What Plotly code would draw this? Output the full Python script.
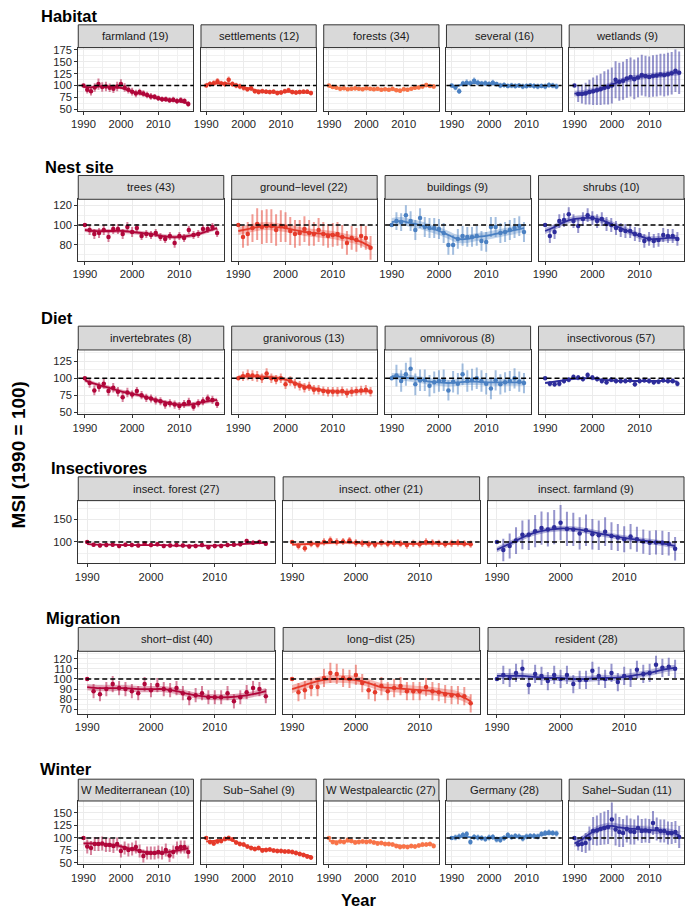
import plotly.graph_objects as go

W, H = 685, 917
YEARS = list(range(1990, 2019))
FIT_YEARS = list(range(1990, 2019, 2))

# ---------------- Habitat ----------------
farmland_val = [100, 91, 88, 96, 103, 97, 98, 95, 93, 98, 103, 96, 91, 87, 83, 86, 83, 80, 77, 76, 73, 71, 71, 69, 70, 67, 69, 67, 61]
farmland_err = [0, 8, 9, 9, 12, 10, 10, 9, 9, 10, 10, 9, 8, 8, 8, 7, 7, 7, 7, 6, 6, 6, 6, 6, 6, 6, 6, 6, 6]
farmland_fit = [97, 96, 98, 98, 97, 95, 90, 85, 81, 77, 73, 70, 68, 66, 62]
farmland_band = 3

settlements_val = [100, 103, 105, 109, 104, 103, 112, 103, 100, 98, 95, 92, 94, 88, 86, 88, 87, 86, 87, 84, 85, 88, 90, 86, 85, 86, 87, 87, 84]
settlements_err = [0, 6, 6, 7, 6, 6, 7, 6, 6, 6, 6, 5, 5, 5, 5, 5, 5, 5, 5, 5, 5, 5, 5, 5, 5, 5, 5, 5, 5]
settlements_fit = [103, 104, 105, 104, 101, 96, 92, 89, 87, 86, 86, 87, 86, 86, 85]
settlements_band = 3

forests_val = [100, 97, 95, 93, 94, 92, 93, 94, 93, 92, 94, 93, 92, 93, 91, 92, 91, 93, 90, 89, 92, 91, 93, 95, 96, 98, 101, 99, 98]
forests_err = [0, 4, 4, 5, 4, 4, 4, 5, 4, 4, 4, 4, 4, 4, 4, 4, 4, 4, 4, 5, 4, 4, 4, 4, 4, 5, 5, 4, 5]
forests_fit = [97, 95, 93, 93, 93, 93, 92, 92, 92, 91, 91, 93, 96, 99, 99]
forests_band = 2

several_val = [100, 96, 88, 104, 106, 105, 110, 106, 104, 105, 103, 106, 103, 100, 101, 99, 100, 99, 100, 98, 99, 100, 99, 98, 99, 98, 101, 100, 98]
several_err = [0, 6, 6, 6, 7, 6, 7, 6, 6, 6, 6, 6, 5, 6, 6, 5, 6, 6, 5, 6, 6, 5, 6, 6, 5, 6, 6, 6, 6]
several_fit = [97, 100, 104, 105, 105, 104, 102, 100, 99, 99, 99, 99, 99, 99, 99]
several_band = 2.5

wetlands_val = [100, 82, 82, 83, 86, 88, 90, 92, 95, 97, 100, 112, 108, 110, 115, 118, 113, 117, 122, 120, 118, 120, 121, 123, 122, 124, 126, 131, 127]
wetlands_err = [0, 17, 20, 23, 26, 29, 31, 33, 35, 37, 38, 39, 40, 40, 41, 41, 42, 42, 43, 43, 43, 44, 44, 44, 45, 45, 45, 45, 45]
wetlands_fit = [83, 84, 87, 91, 96, 102, 108, 113, 116, 119, 120, 122, 123, 126, 127]
wetlands_band = 6

# ---------------- Nest site ----------------
trees_val = [100, 95, 91, 92, 95, 88, 96, 96, 91, 98, 93, 97, 89, 91, 90, 92, 88, 86, 89, 82, 89, 87, 95, 90, 91, 96, 96, 98, 92]
trees_err = [0, 5, 5, 5, 5, 5, 5, 5, 5, 5, 5, 4, 4, 4, 4, 4, 4, 4, 4, 5, 4, 4, 4, 4, 4, 4, 4, 4, 4]
trees_fit = [95, 94, 94, 94, 94, 93, 92, 91, 89, 88, 88, 89, 91, 94, 97]
trees_band = 2

ground_val = [100, 88, 91, 97, 101, 98, 99, 99, 95, 99, 98, 94, 91, 92, 96, 92, 91, 95, 91, 89, 90, 91, 88, 82, 87, 85, 89, 87, 77]
ground_err = [0, 11, 12, 14, 16, 17, 17, 17, 16, 16, 15, 14, 14, 13, 13, 13, 12, 12, 12, 12, 12, 12, 12, 12, 12, 12, 12, 12, 12]
ground_fit = [94, 96, 98, 99, 98, 97, 95, 93, 92, 91, 90, 88, 86, 83, 78]
ground_band = 4

buildings_val = [100, 104, 103, 110, 104, 95, 107, 98, 97, 97, 96, 92, 80, 80, 86, 89, 88, 88, 89, 84, 83, 98, 98, 92, 93, 95, 97, 99, 93]
buildings_err = [0, 9, 9, 10, 10, 10, 10, 10, 10, 10, 10, 10, 10, 10, 10, 10, 10, 10, 10, 10, 10, 10, 10, 10, 10, 10, 10, 10, 10]
buildings_fit = [103, 104, 102, 100, 97, 94, 90, 86, 86, 88, 89, 91, 93, 95, 97]
buildings_band = 4

shrubs_val = [100, 89, 93, 104, 105, 111, 104, 99, 106, 110, 107, 104, 106, 101, 100, 97, 95, 94, 94, 91, 90, 84, 86, 84, 85, 90, 89, 89, 86]
shrubs_err = [0, 7, 7, 7, 7, 7, 7, 7, 7, 7, 7, 7, 7, 7, 7, 7, 7, 7, 7, 7, 7, 7, 7, 7, 7, 7, 7, 7, 7]
shrubs_fit = [94, 98, 103, 106, 107, 107, 105, 101, 97, 93, 89, 86, 86, 87, 87]
shrubs_band = 3

# ---------------- Diet ----------------
invert_val = [100, 93, 82, 87, 92, 81, 86, 80, 72, 79, 76, 81, 75, 71, 70, 67, 66, 61, 63, 61, 59, 62, 65, 58, 63, 66, 70, 68, 62]
invert_err = [0, 7, 7, 7, 7, 7, 7, 7, 7, 7, 6, 6, 6, 6, 6, 6, 6, 6, 6, 6, 6, 6, 6, 6, 6, 6, 6, 6, 6]
invert_fit = [97, 92, 88, 84, 80, 77, 74, 70, 66, 63, 61, 61, 63, 66, 68]
invert_band = 3

gran_val = [100, 103, 105, 104, 103, 100, 107, 100, 98, 100, 91, 96, 92, 89, 86, 88, 83, 83, 81, 80, 80, 80, 81, 78, 80, 81, 82, 83, 80]
gran_err = [0, 7, 8, 8, 8, 7, 8, 7, 7, 7, 7, 7, 7, 7, 7, 7, 7, 7, 7, 7, 7, 7, 7, 7, 7, 7, 7, 7, 7]
gran_fit = [102, 103, 103, 102, 101, 98, 93, 88, 85, 82, 81, 80, 80, 81, 81]
gran_band = 3

omni_val = [100, 104, 96, 106, 114, 91, 97, 97, 89, 94, 96, 97, 82, 95, 92, 106, 96, 98, 100, 96, 92, 85, 97, 91, 94, 96, 100, 95, 93]
omni_err = [0, 16, 16, 17, 17, 16, 16, 16, 16, 16, 16, 16, 15, 16, 16, 16, 16, 16, 16, 16, 16, 16, 15, 15, 15, 15, 15, 15, 15]
omni_fit = [103, 102, 100, 98, 95, 94, 93, 94, 95, 95, 94, 94, 94, 94, 94]
omni_band = 5

insectiv_val = [100, 92, 91, 92, 96, 98, 102, 101, 99, 105, 101, 99, 96, 94, 98, 96, 96, 96, 97, 91, 96, 97, 96, 94, 95, 97, 96, 96, 92]
insectiv_err = [0, 4, 4, 4, 4, 4, 4, 4, 4, 4, 4, 4, 4, 4, 4, 4, 4, 4, 4, 4, 4, 4, 4, 4, 4, 4, 4, 4, 4]
insectiv_fit = [93, 95, 97, 99, 100, 100, 98, 97, 96, 96, 96, 96, 96, 96, 95]
insectiv_band = 1.5

# ---------------- Insectivores ----------------
iforest_val = [100, 94, 92, 93, 94, 91, 94, 93, 92, 96, 93, 95, 91, 92, 93, 92, 90, 91, 93, 88, 91, 91, 93, 94, 95, 102, 98, 100, 96]
iforest_err = [0, 5, 5, 5, 5, 5, 5, 5, 5, 5, 5, 5, 5, 5, 5, 5, 5, 5, 5, 5, 5, 5, 5, 5, 5, 5, 5, 5, 5]
iforest_fit = [95, 94, 94, 93, 93, 93, 93, 92, 92, 92, 92, 93, 95, 97, 98]
iforest_band = 1.5

iother_val = [100, 91, 86, 96, 94, 100, 104, 100, 101, 103, 98, 97, 95, 94, 98, 96, 97, 96, 93, 97, 95, 100, 98, 97, 95, 97, 98, 96, 95]
iother_err = [0, 8, 8, 8, 8, 8, 8, 8, 8, 8, 8, 8, 8, 8, 8, 8, 8, 8, 8, 8, 8, 8, 8, 8, 8, 8, 8, 8, 8]
iother_fit = [94, 95, 97, 98, 99, 98, 97, 97, 97, 96, 96, 97, 96, 96, 95]
iother_band = 3

ifarm_val = [100, 82, 91, 103, 116, 116, 124, 131, 128, 133, 143, 129, 128, 119, 126, 117, 115, 123, 113, 110, 106, 112, 106, 101, 98, 99, 98, 96, 85]
ifarm_err = [0, 25, 28, 30, 32, 34, 36, 37, 38, 38, 39, 38, 37, 36, 35, 34, 33, 32, 31, 30, 29, 28, 28, 27, 27, 27, 27, 26, 26]
ifarm_fit = [83, 96, 110, 121, 127, 130, 129, 125, 119, 114, 109, 105, 101, 97, 91]
ifarm_band = 6

# ---------------- Migration ----------------
short_val = [100, 88, 85, 90, 95, 91, 90, 88, 86, 95, 89, 94, 90, 89, 91, 86, 81, 84, 86, 82, 82, 82, 86, 78, 82, 87, 91, 90, 83]
short_err = [0, 7, 7, 7, 8, 7, 7, 7, 7, 7, 7, 7, 7, 7, 7, 7, 7, 7, 7, 7, 7, 7, 7, 7, 7, 7, 7, 7, 7]
short_fit = [92, 91, 91, 91, 90, 90, 90, 88, 85, 83, 82, 82, 83, 85, 88]
short_band = 3

long_val = [100, 87, 89, 92, 92, 101, 106, 105, 101, 100, 104, 96, 89, 87, 93, 88, 91, 93, 88, 88, 88, 92, 88, 87, 85, 84, 84, 83, 76]
long_err = [0, 9, 9, 9, 9, 9, 10, 10, 9, 9, 10, 9, 9, 9, 9, 9, 9, 9, 9, 9, 9, 9, 9, 9, 9, 9, 9, 9, 9]
long_fit = [90, 94, 98, 100, 100, 99, 96, 92, 91, 90, 89, 88, 86, 84, 78]
long_band = 4

resident_val = [100, 104, 101, 106, 110, 94, 105, 103, 98, 104, 100, 104, 95, 99, 99, 108, 103, 100, 106, 97, 103, 101, 109, 105, 106, 114, 111, 112, 110]
resident_err = [0, 9, 9, 9, 9, 9, 9, 9, 9, 9, 9, 9, 9, 9, 9, 9, 9, 9, 9, 9, 9, 9, 9, 9, 9, 9, 9, 9, 9]
resident_fit = [103, 103, 103, 102, 101, 101, 100, 100, 101, 101, 102, 104, 106, 109, 111]
resident_band = 3

# ---------------- Winter ----------------
wmed_val = [100, 83, 80, 88, 88, 89, 86, 86, 84, 88, 74, 80, 76, 78, 82, 74, 64, 70, 70, 70, 72, 70, 76, 65, 72, 80, 82, 82, 72]
wmed_err = [0, 14, 14, 14, 14, 14, 14, 14, 14, 13, 13, 13, 13, 13, 13, 13, 13, 13, 13, 13, 13, 13, 13, 13, 13, 13, 13, 13, 13]
wmed_fit = [89, 89, 88, 87, 86, 83, 79, 76, 72, 70, 70, 71, 73, 76, 79]
wmed_band = 4

subsahel_val = [100, 92, 89, 93, 94, 98, 100, 97, 91, 88, 87, 83, 80, 78, 80, 75, 76, 77, 75, 74, 74, 73, 73, 72, 70, 68, 66, 63, 61]
subsahel_err = [0, 5, 5, 5, 5, 5, 5, 5, 5, 5, 5, 5, 5, 5, 5, 5, 5, 5, 5, 5, 5, 5, 5, 5, 5, 5, 5, 5, 5]
subsahel_fit = [93, 94, 96, 97, 92, 86, 81, 78, 77, 75, 74, 73, 70, 67, 63]
subsahel_band = 2

wwest_val = [100, 92, 90, 93, 92, 96, 94, 91, 92, 93, 92, 93, 91, 89, 90, 88, 88, 87, 84, 82, 83, 82, 84, 83, 85, 87, 87, 88, 84]
wwest_err = [0, 5, 5, 5, 5, 5, 5, 5, 5, 5, 5, 5, 5, 5, 5, 5, 5, 5, 5, 5, 5, 5, 5, 5, 5, 5, 5, 5, 5]
wwest_fit = [94, 93, 93, 93, 93, 93, 92, 90, 88, 86, 84, 83, 84, 86, 87]
wwest_band = 2

germany_val = [100, 101, 103, 106, 108, 92, 102, 101, 100, 98, 101, 102, 97, 96, 100, 106, 102, 104, 103, 99, 103, 104, 104, 103, 108, 110, 111, 110, 109]
germany_err = [0, 6, 6, 6, 6, 6, 6, 6, 6, 6, 6, 6, 6, 6, 6, 6, 6, 6, 6, 6, 6, 6, 6, 6, 6, 6, 6, 6, 6]
germany_fit = [101, 102, 102, 101, 100, 100, 100, 101, 102, 103, 103, 104, 106, 108, 109]
germany_band = 2

sahel_val = [100, 87, 88, 90, 99, 114, 115, 118, 120, 122, 137, 117, 112, 110, 118, 113, 112, 120, 114, 115, 114, 130, 118, 114, 114, 110, 110, 112, 102]
sahel_err = [0, 12, 16, 20, 24, 28, 30, 32, 33, 34, 34, 32, 30, 28, 27, 26, 25, 25, 24, 24, 24, 24, 23, 23, 23, 23, 22, 22, 22]
sahel_fit = [89, 97, 108, 117, 122, 124, 121, 119, 118, 117, 116, 115, 113, 111, 105]
sahel_band = 7

# ---------------- panel / row definitions ----------------
COLORS = ["#B0063A", "#E53A2A", "#F87348", "#4A80C2", "#2D2C9B"]

ROWS = [
    dict(title="Habitat", yr=[46, 180], t0=50, dt=25, panels=[
        ("farmland (19)", 0, farmland_val, farmland_err, farmland_fit, farmland_band),
        ("settlements (12)", 1, settlements_val, settlements_err, settlements_fit, settlements_band),
        ("forests (34)", 2, forests_val, forests_err, forests_fit, forests_band),
        ("several (16)", 3, several_val, several_err, several_fit, several_band),
        ("wetlands (9)", 4, wetlands_val, wetlands_err, wetlands_fit, wetlands_band)]),
    dict(title="Nest site", yr=[64, 126], t0=80, dt=20, panels=[
        ("trees (43)", 0, trees_val, trees_err, trees_fit, trees_band),
        ("ground\u2212level (22)", 1, ground_val, ground_err, ground_fit, ground_band),
        ("buildings (9)", 3, buildings_val, buildings_err, buildings_fit, buildings_band),
        ("shrubs (10)", 4, shrubs_val, shrubs_err, shrubs_fit, shrubs_band)]),
    dict(title="Diet", yr=[46.5, 142], t0=50, dt=25, panels=[
        ("invertebrates (8)", 0, invert_val, invert_err, invert_fit, invert_band),
        ("granivorous (13)", 1, gran_val, gran_err, gran_fit, gran_band),
        ("omnivorous (8)", 3, omni_val, omni_err, omni_fit, omni_band),
        ("insectivorous (57)", 4, insectiv_val, insectiv_err, insectiv_fit, insectiv_band)]),
    dict(title="Insectivores", yr=[53, 192], t0=100, dt=50, panels=[
        ("insect. forest (27)", 0, iforest_val, iforest_err, iforest_fit, iforest_band),
        ("insect. other (21)", 1, iother_val, iother_err, iother_fit, iother_band),
        ("insect. farmland (9)", 4, ifarm_val, ifarm_err, ifarm_fit, ifarm_band)]),
    dict(title="Migration", yr=[65.7, 127.3], t0=70, dt=10, panels=[
        ("short\u2212dist (40)", 0, short_val, short_err, short_fit, short_band),
        ("long\u2212dist (25)", 1, long_val, long_err, long_fit, long_band),
        ("resident (28)", 4, resident_val, resident_err, resident_fit, resident_band)]),
    dict(title="Winter", yr=[47, 174], t0=50, dt=25, panels=[
        ("W Mediterranean (10)", 0, wmed_val, wmed_err, wmed_fit, wmed_band),
        ("Sub\u2212Sahel (9)", 1, subsahel_val, subsahel_err, subsahel_fit, subsahel_band),
        ("W Westpalearctic (27)", 2, wwest_val, wwest_err, wwest_fit, wwest_band),
        ("Germany (28)", 3, germany_val, germany_err, germany_fit, germany_band),
        ("Sahel\u2212Sudan (11)", 4, sahel_val, sahel_err, sahel_fit, sahel_band)]),
]

# geometry in pixels: (title_x, title_y, strip_top, plot_top, plot_bottom)
ROW_GEOM = [
    (32, 12, 21, 44, 108),
    (36, 164, 173, 197, 259),
    (32, 317, 325, 349, 414),
    (42, 468.5, 477, 501, 564),
    (37, 619, 629, 653, 716),
    (31, 772, 782, 804, 868),
]
COL_GEOM = {
    5: [(72, 188.4), (196, 312.4), (320, 436.4), (444, 560.4), (568, 684.4)],
    4: [(72, 219), (227, 374), (382, 529), (537, 684)],
    3: [(72, 270.5), (279, 477.5), (486, 684)],
}

FONT = "Liberation Sans, Arial, Helvetica, sans-serif"
GRID = "#EBEBEB"
BORDER = "#333333"
TICK_FS = 11.2
STRIP_FS = 11.2


def rgba(hexc, a):
    h = hexc.lstrip("#")
    return "rgba(%d,%d,%d,%.2f)" % (int(h[0:2], 16), int(h[2:4], 16), int(h[4:6], 16), a)


def px_x(x):
    return x / W


def px_y(y):
    return 1 - y / H


fig = go.Figure()
layout = {}
shapes = []
annotations = []
n = 0
for r, row in enumerate(ROWS):
    tx, ty, s_top, p_top, p_bot = ROW_GEOM[r]
    cols = COL_GEOM[len(row["panels"])]
    annotations.append(dict(text="<b>%s</b>" % row["title"], x=px_x(tx), y=px_y(ty), xref="paper", yref="paper",
                            xanchor="left", yanchor="middle", showarrow=False,
                            font=dict(family=FONT, size=16.5, color="black")))
    for c, (label, ci, val, err, fit, band) in enumerate(row["panels"]):
        n += 1
        sfx = "" if n == 1 else str(n)
        xa, ya = "x" + sfx, "y" + sfx
        color = COLORS[ci]
        x0, x1 = cols[c]
        lower = [f - band for f in fit]
        upper = [f + band for f in fit]
        fig.add_trace(go.Scatter(x=FIT_YEARS, y=lower, xaxis=xa, yaxis=ya, mode="lines",
                                 line=dict(width=0, shape="spline", color=rgba(color, 0)),
                                 hoverinfo="skip", showlegend=False))
        fig.add_trace(go.Scatter(x=FIT_YEARS, y=upper, xaxis=xa, yaxis=ya, mode="lines", fill="tonexty",
                                 fillcolor=rgba(color, 0.35),
                                 line=dict(width=0, shape="spline", color=rgba(color, 0)),
                                 hoverinfo="skip", showlegend=False))
        fig.add_trace(go.Scatter(x=YEARS, y=val, xaxis=xa, yaxis=ya, mode="markers",
                                 marker=dict(color=color, size=4.5),
                                 error_y=dict(type="data", array=err, visible=True, color=rgba(color, 0.5),
                                              thickness=2, width=0),
                                 showlegend=False))
        fig.add_trace(go.Scatter(x=FIT_YEARS, y=fit, xaxis=xa, yaxis=ya, mode="lines",
                                 line=dict(color=color, width=1.8, shape="spline"),
                                 showlegend=False))
        layout["xaxis" + sfx] = dict(
            domain=[px_x(x0), px_x(x1)], anchor=ya, range=[1988.6, 2019.4],
            tickmode="linear", tick0=1990, dtick=10,
            ticks="outside", ticklen=3, tickwidth=1, tickcolor=BORDER,
            tickfont=dict(family=FONT, size=TICK_FS, color="#262626"),
            showgrid=True, gridcolor=GRID, gridwidth=1,
            minor=dict(tick0=1990, dtick=5, showgrid=True, gridcolor="#F1F1F1", gridwidth=0.7),
            showline=True, mirror=True, linecolor=BORDER, linewidth=1, zeroline=False, fixedrange=True)
        layout["yaxis" + sfx] = dict(
            domain=[px_y(p_bot), px_y(p_top)], anchor=xa, range=row["yr"],
            tickmode="linear", tick0=row["t0"], dtick=row["dt"],
            ticks="outside" if c == 0 else "", ticklen=3, tickwidth=1, tickcolor=BORDER,
            showticklabels=(c == 0),
            tickfont=dict(family=FONT, size=TICK_FS, color="#262626"),
            showgrid=True, gridcolor=GRID, gridwidth=1,
            minor=dict(tick0=row["t0"], dtick=row["dt"] / 2, showgrid=True, gridcolor="#F1F1F1", gridwidth=0.7),
            showline=True, mirror=True, linecolor=BORDER, linewidth=1, zeroline=False, fixedrange=True)
        shapes.append(dict(type="line", xref=xa + " domain", yref=ya, x0=0, x1=1, y0=100, y1=100,
                           line=dict(color="black", width=1.5, dash="5px,3px"), layer="above"))
        shapes.append(dict(type="rect", xref="paper", yref="paper", x0=px_x(x0), x1=px_x(x1),
                           y0=px_y(p_top), y1=px_y(s_top), fillcolor="#D9D9D9",
                           line=dict(color=BORDER, width=1), layer="above"))
        annotations.append(dict(text=label, x=px_x((x0 + x1) / 2), y=px_y((s_top + p_top) / 2),
                                xref="paper", yref="paper", xanchor="center", yanchor="middle",
                                showarrow=False, font=dict(family=FONT, size=STRIP_FS, color="#1A1A1A")))

annotations.append(dict(text="<b>Year</b>", x=px_x(355), y=px_y(904), xref="paper", yref="paper",
                        xanchor="center", yanchor="middle", showarrow=False,
                        font=dict(family=FONT, size=16.5, color="black")))
annotations.append(dict(text="<b>MSI (1990 = 100)</b>", x=px_x(11.5), y=px_y(455), xref="paper", yref="paper",
                        xanchor="center", yanchor="middle", textangle=-90, showarrow=False,
                        font=dict(family=FONT, size=19, color="black")))

fig.update_layout(width=W, height=H, autosize=False, margin=dict(l=0, r=0, t=0, b=0, pad=0),
                  paper_bgcolor="white", plot_bgcolor="white", showlegend=False,
                  shapes=shapes, annotations=annotations, **layout)
fig.write_html("out.html", config={"responsive": False, "displayModeBar": False},
               post_script="document.body.style.margin='0px';document.body.style.padding='0px';"
                           "document.documentElement.style.overflow='hidden';")
